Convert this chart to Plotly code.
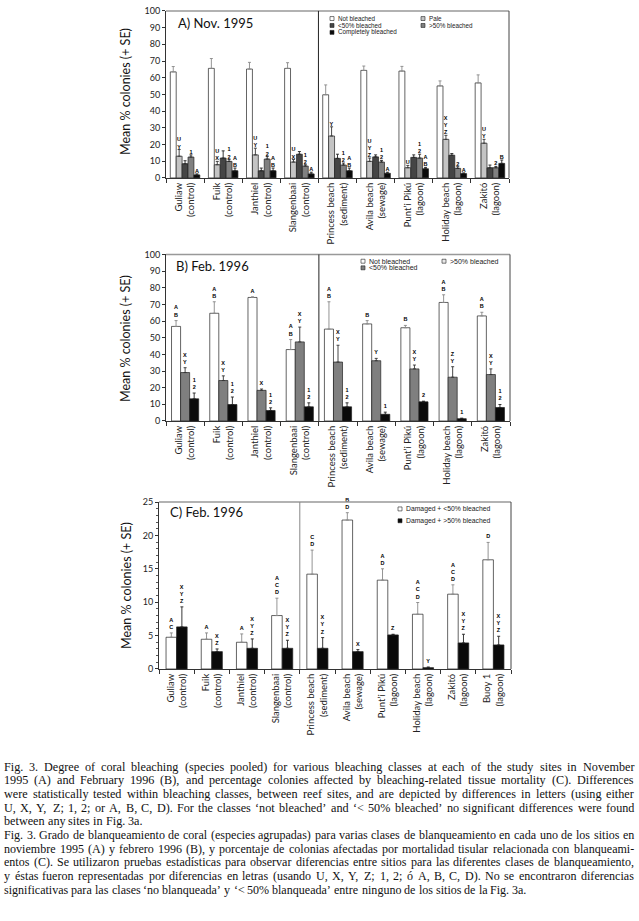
import plotly.graph_objects as go

W, H = 639, 921

# ---------------- data ----------------
sites = ["Guliaw<br>(control)", "Fuik<br>(control)", "Janthiel<br>(control)",
         "Slangenbaai<br>(control)", "Princess beach<br>(sediment)", "Avila beach<br>(sewage)",
         "Punt’i Pikú<br>(lagoon)", "Holiday beach<br>(lagoon)", "Zakitó<br>(lagoon)"]
sites_c = sites + ["Buoy 1<br>(lagoon)"]

# Panel A - Nov. 1995
a_nb = [63.5, 65.6, 65.2, 65.6, 49.8, 64.4, 64.0, 55.1, 56.9]
a_nb_se = [3.2, 5.9, 4.0, 3.4, 5.9, 2.6, 2.8, 3.0, 4.8]
a_pale = [13.0, 7.9, 13.8, 9.5, 25.1, 9.9, 6.1, 23.1, 20.8]
a_pale_se = [4.0, 2.0, 4.0, 1.5, 5.5, 2.0, 1.4, 2.4, 2.3]
a_lt50 = [8.5, 11.9, 4.3, 14.2, 11.7, 12.6, 12.3, 13.6, 6.1]
a_lt50_se = [1.8, 4.3, 1.6, 1.6, 2.5, 1.2, 1.5, 1.0, 1.6]
a_gt50 = [12.5, 9.9, 11.3, 7.1, 7.7, 9.5, 11.9, 5.7, 6.1]
a_gt50_se = [1.3, 1.1, 1.5, 0.8, 1.2, 1.0, 2.3, 1.0, 0.8]
a_cb = [1.8, 4.3, 4.3, 2.4, 4.3, 2.8, 5.5, 2.6, 8.7]
a_cb_se = [0.6, 1.6, 1.6, 1.0, 1.6, 0.6, 0.8, 0.4, 2.0]
a_pale_lbl = ["U<br>Y", "U<br>X", "U<br>Y", "U<br>X", "Y", "U<br>Y<br>Z", "U", "X<br>Y<br>Z", "U<br>Y"]
a_gt50_lbl = ["1", "1<br>2", "1<br>2", "1<br>2", "1<br>2", "1<br>2", "1<br>2", "2", "2"]
a_cb_lbl = ["A", "A<br>B", "A<br>B", "A", "A<br>B", "A", "A<br>B", "A", "B"]

# Panel B - Feb. 1996
b_nb = [56.8, 64.7, 74.2, 42.9, 55.2, 58.3, 56.0, 71.2, 63.1]
b_nb_se = [3.5, 6.9, 0.4, 6.0, 16.4, 2.0, 1.4, 4.6, 2.2]
b_lt50 = [29.1, 24.3, 18.4, 47.5, 35.4, 36.2, 31.3, 26.3, 27.9]
b_lt50_se = [2.9, 2.8, 0.8, 8.9, 10.1, 1.4, 2.3, 6.3, 3.4]
b_gt50 = [13.3, 9.9, 6.3, 8.5, 8.5, 4.0, 11.5, 1.4, 8.1]
b_gt50_se = [3.5, 4.5, 1.6, 2.4, 2.4, 1.3, 0.4, 0.3, 1.8]
b_nb_lbl = ["A<br>B", "A<br>B", "A", "A<br>B", "A<br>B", "B", "B", "A<br>B", "A<br>B"]
b_lt50_lbl = ["X<br>Y", "X<br>Y", "X", "X<br>Y", "X<br>Y", "Y", "X<br>Y", "Z<br>Y", "X<br>Y"]
b_gt50_lbl = ["1<br>2", "1<br>2", "1<br>2", "1<br>2", "1<br>2", "1", "2", "1", "1<br>2"]

# Panel C - Feb. 1996 (tissue mortality)
c_lt50 = [4.75, 4.45, 4.0, 8.0, 14.2, 22.3, 13.3, 8.2, 11.2, 16.35]
c_lt50_se = [0.65, 0.95, 1.25, 2.6, 3.6, 1.1, 1.7, 1.75, 1.4, 2.6]
c_gt50 = [6.3, 2.6, 3.1, 3.1, 3.1, 2.6, 5.1, 0.2, 3.9, 3.6]
c_gt50_se = [3.0, 0.4, 1.4, 1.2, 1.6, 0.3, 0.1, 0.1, 1.3, 1.3]
c_lt50_lbl = ["A<br>C", "A", "A", "A<br>C<br>D", "C<br>D", "B<br>D", "A<br>D", "A<br>C<br>D", "A<br>C<br>D", "D"]
c_gt50_lbl = ["X<br>Y<br>Z", "X<br>Z", "X<br>Y<br>Z", "X<br>Y<br>Z", "X<br>Y<br>Z", "X", "Z", "Y", "X<br>Y<br>Z", "X<br>Y<br>Z"]

caption_en = [
    "Fig. 3. Degree of coral bleaching (species pooled) for various bleaching classes at each of the study sites in November",
    "1995 (A) and February 1996 (B), and percentage colonies affected by bleaching-related tissue mortality (C). Differences",
    "were statistically tested within bleaching classes, between reef sites, and are depicted by differences in letters (using either",
    "U, X, Y, Z; 1, 2; or A, B, C, D). For the classes ‘not bleached’ and ‘< 50% bleached’ no significant differences were found",
    "between any sites in Fig. 3a.",
]
caption_es = [
    "Fig. 3. Grado de blanqueamiento de coral (especies agrupadas) para varias clases de blanqueamiento en cada uno de los sitios en",
    "noviembre 1995 (A) y febrero 1996 (B), y porcentaje de colonias afectadas por mortalidad tisular relacionada con blanqueami-",
    "entos (C). Se utilizaron pruebas estadísticas para observar diferencias entre sitios para las diferentes clases de blanqueamiento,",
    "y éstas fueron representadas por diferencias en letras (usando U, X, Y, Z; 1, 2; ó A, B, C, D). No se encontraron diferencias",
    "significativas para las clases ‘no blanqueada’ y ‘< 50% blanqueada’ entre ninguno de los sitios de la Fig. 3a.",
]

# ---------------- helpers ----------------
def px(x):
    return x / W

def py(y):
    return 1 - y / H

SANS = "Lato"
fig = go.Figure()


def add_series(k, cats, vals, errs, labels, color, width, offset, errcolor):
    xa = "x" if k == 1 else f"x{k}"
    ya = "y" if k == 1 else f"y{k}"
    fig.add_trace(go.Bar(
        x=cats, y=vals, width=width, offset=offset, xaxis=xa, yaxis=ya,
        marker=dict(color=color, line=dict(color="#222", width=0.7)),
        error_y=dict(type="data", array=errs, arrayminus=[0] * len(errs), symmetric=False,
                     color=errcolor, thickness=0.9, width=1.5),
        showlegend=False, hoverinfo="skip"))
    if labels is not None:
        tops = [v + e for v, e in zip(vals, errs)]
        tf = dict(size=5.5, color="#000000", family="Liberation Sans", weight="bold")
        fig.add_trace(go.Bar(
            x=cats, y=tops, width=width, offset=offset, xaxis=xa, yaxis=ya,
            marker=dict(color="rgba(0,0,0,0)", line=dict(width=0)),
            text=labels, textposition="outside", textangle=0, constraintext="none",
            cliponaxis=False, textfont=tf, outsidetextfont=tf,
            showlegend=False, hoverinfo="skip"))


# Panel A: 5 bars per site
wa = 0.155
specs_a = [(a_nb, a_nb_se, None, "white", "#888"),
           (a_pale, a_pale_se, a_pale_lbl, "#c4c4c4", "#333"),
           (a_lt50, a_lt50_se, None, "#454545", "#222"),
           (a_gt50, a_gt50_se, a_gt50_lbl, "#808080", "#222"),
           (a_cb, a_cb_se, a_cb_lbl, "#0a0a0a", "#222")]
for i, (v, e, l, c, ec) in enumerate(specs_a):
    add_series(1, sites, v, e, l, c, wa, -2.5 * wa + i * wa, ec)

# Panel B: 3 bars per site
wb = 0.237
specs_b = [(b_nb, b_nb_se, b_nb_lbl, "white", "#888"),
           (b_lt50, b_lt50_se, b_lt50_lbl, "#7f7f7f", "#333"),
           (b_gt50, b_gt50_se, b_gt50_lbl, "#0a0a0a", "#222")]
for i, (v, e, l, c, ec) in enumerate(specs_b):
    add_series(2, sites, v, e, l, c, wb, -1.5 * wb + i * wb, ec)

# Panel C: 2 bars per site
wc = 0.3
specs_c = [(c_lt50, c_lt50_se, c_lt50_lbl, "white", "#888"),
           (c_gt50, c_gt50_se, c_gt50_lbl, "#0a0a0a", "#222")]
for i, (v, e, l, c, ec) in enumerate(specs_c):
    add_series(3, sites_c, v, e, l, c, wc, -1.0 * wc + i * wc, ec)

# ---------------- axes ----------------
def xaxis_cfg(dom, anchor, n):
    return dict(domain=[px(dom[0]), px(dom[1])], anchor=anchor, type="category",
                range=[-0.5, n - 0.5], showline=True, linecolor="#333", linewidth=1,
                ticks="outside", tickson="boundaries", ticklen=4, tickcolor="#333",
                tickangle=-90, tickfont=dict(family=SANS, size=9.5, color="#222"),
                showgrid=False, zeroline=False, fixedrange=True)


def yaxis_cfg(dom, anchor, rng, dtick, minor=None):
    d = dict(domain=[py(dom[0]), py(dom[1])], anchor=anchor, range=rng, dtick=dtick,
             showline=True, linecolor="#333", linewidth=1, ticks="outside", ticklen=3,
             tickcolor="#333", tickfont=dict(family=SANS, size=9, color="#222"),
             showgrid=False, zeroline=False, fixedrange=True)
    if minor:
        d["minor"] = dict(dtick=minor, ticks="outside", ticklen=2, tickcolor="#555", showgrid=False)
    return d


fig.update_layout(
    width=W, height=H, margin=dict(l=0, r=0, t=0, b=0),
    paper_bgcolor="white", plot_bgcolor="white", barmode="overlay",
    xaxis=xaxis_cfg((166, 509), "y", 9),
    yaxis=yaxis_cfg((174, 5), "x", [0, 100], 10),
    xaxis2=xaxis_cfg((166, 510), "y2", 9),
    yaxis2=yaxis_cfg((420, 251.5), "x2", [0, 100], 10),
    xaxis3=xaxis_cfg((159, 511), "y3", 10),
    yaxis3=yaxis_cfg((671, 502), "x3", [0, 25], 5, minor=1),
)

# ---------------- frames / dividers ----------------
shapes = []
for k, divcol in [("", "#222"), ("2", "#222"), ("3", "#888")]:
    xr = f"x{k} domain"
    yr = f"y{k} domain"
    shapes.append(dict(type="line", xref=xr, yref=yr, x0=0, x1=1, y0=1, y1=1,
                       line=dict(color="#999", width=1.5)))
    shapes.append(dict(type="line", xref=xr, yref=yr, x0=1, x1=1, y0=0, y1=1,
                       line=dict(color="#444", width=1)))
    shapes.append(dict(type="line", xref=f"x{k}", yref=yr, x0=3.5, x1=3.5, y0=0, y1=1,
                       line=dict(color=divcol, width=1)))

annotations = []

# ---------------- legends (swatch + label) ----------------
def legend_item(x, y, color, label, size, sq=4):
    shapes.append(dict(type="rect", xref="paper", yref="paper",
                       x0=px(x), x1=px(x + sq), y0=py(y + sq / 2), y1=py(y - sq / 2),
                       fillcolor=color, line=dict(color="#222", width=0.6)))
    annotations.append(dict(xref="paper", yref="paper", x=px(x + sq + 2), y=py(y),
                            xanchor="left", yanchor="middle", showarrow=False, text=label,
                            font=dict(family="Liberation Sans", size=size, color="#222")))

legend_item(330, 12.7, "white", "Not bleached", 6.3)
legend_item(330, 19.7, "#454545", "<50% bleached", 6.3)
legend_item(330, 26.7, "#0a0a0a", "Completely bleached", 6.3)
legend_item(421, 12.7, "#c4c4c4", "Pale", 6.3)
legend_item(421, 19.7, "#808080", ">50% bleached", 6.3)

legend_item(361, 258.3, "white", "Not bleached", 7)
legend_item(361, 265.0, "#7f7f7f", "<50% bleached", 7)
legend_item(442, 258.3, "#e8e8e8", ">50% bleached", 7)

legend_item(398, 509, "white", "Damaged + <50% bleached", 6.8)
legend_item(398, 521, "#0a0a0a", "Damaged + >50% bleached", 6.8)

# ---------------- panel titles & y titles ----------------
for x, y, t in [(176, 17.5, "A) Nov. 1995"), (174, 263, "B) Feb. 1996"), (168, 512, "C) Feb. 1996")]:
    annotations.append(dict(xref="paper", yref="paper", x=px(x), y=py(y), xanchor="left",
                            yanchor="middle", showarrow=False, text=t,
                            font=dict(family=SANS, size=13, color="#111")))
for y in (86, 336, 586):
    annotations.append(dict(xref="paper", yref="paper", x=px(126), y=py(y), xanchor="center",
                            yanchor="middle", showarrow=False, text="Mean % colonies (+ SE)",
                            textangle=-90, font=dict(family=SANS, size=12.5, color="#111")))

# ---------------- caption (justified, Times-metric widths) ----------------
TW = {" ": 250, "%": 833, "’": 333, "‘": 333, "(": 333, ")": 333, ",": 250, "-": 333,
      ".": 250, ":": 278, ";": 278, "<": 564, "A": 722, "B": 667, "C": 667, "D": 722,
      "E": 611, "F": 556, "G": 722, "H": 722, "I": 333, "J": 389, "K": 722, "L": 611,
      "M": 889, "N": 722, "O": 722, "P": 556, "Q": 722, "R": 667, "S": 556, "T": 611,
      "U": 722, "V": 722, "W": 944, "X": 722, "Y": 722, "Z": 611, "a": 444, "b": 500,
      "c": 444, "d": 500, "e": 444, "f": 333, "g": 500, "h": 500, "i": 278, "j": 278,
      "k": 500, "l": 278, "m": 778, "n": 500, "o": 500, "p": 500, "q": 500, "r": 333,
      "s": 389, "t": 278, "u": 500, "v": 500, "w": 722, "x": 500, "y": 500, "z": 444,
      "é": 444, "í": 278, "ó": 500, "ú": 500}


def em_width(s):
    return sum(TW.get(ch, 500) for ch in s) / 1000.0


LEFT, RIGHT = 4.0, 634.0
cap_y = [770, 783.7, 797.7, 811.7, 825, 839, 852.7, 866.7, 880.7, 894.3]


def caption_block(lines, ys, max_size):
    full = lines[:-1]
    widest = max(em_width(l) for l in full)
    size = min(max_size, (RIGHT - LEFT) / widest * 0.985)
    for idx, (line, yy) in enumerate(zip(lines, ys)):
        words = line.split(" ")
        ww = [em_width(w) * size for w in words]
        if idx < len(lines) - 1 and len(words) > 1:
            gap = ((RIGHT - LEFT) - sum(ww)) / (len(words) - 1)
        else:
            gap = TW[" "] / 1000.0 * size
        x = LEFT
        for w, wwid in zip(words, ww):
            annotations.append(dict(xref="paper", yref="paper", x=px(x), y=py(yy),
                                    xanchor="left", yanchor="middle", showarrow=False,
                                    text=w, borderpad=0, borderwidth=0,
                                    font=dict(family="Liberation Serif", size=size, color="#111")))
            x += wwid + gap


caption_block(caption_en, cap_y[:5], 12.2)
caption_block(caption_es, cap_y[5:], 12.2)

fig.update_layout(shapes=shapes, annotations=annotations)
fig.write_html("out.html", config={"displayModeBar": False},
               post_script="document.body.style.margin='0px';document.body.style.padding='0px';")
